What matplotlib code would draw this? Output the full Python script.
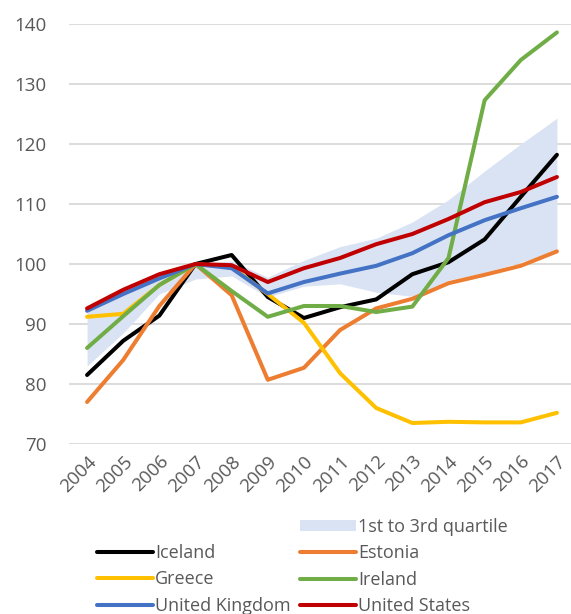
import matplotlib
matplotlib.use("Agg")
import matplotlib.pyplot as plt
from matplotlib.lines import Line2D
from matplotlib.patches import Patch
import numpy as np

plt.rcParams['font.family'] = ['Open Sans', 'DejaVu Sans']

years = ["2004", "2005", "2006", "2007", "2008", "2009", "2010", "2011",
         "2012", "2013", "2014", "2015", "2016", "2017"]

q1 = [83.0, 88.5, 95.0, 97.5, 98.0, 94.5, 96.3, 96.7, 95.3, 94.6, 97.3, 98.6, 100.3, 102.3]
q3 = [92.6, 95.3, 97.8, 100.0, 100.5, 97.8, 100.6, 102.9, 104.3, 107.0, 110.7, 115.5, 120.0, 124.3]

iceland = [81.5, 87.2, 91.4, 100.0, 101.5, 94.5, 91.0, 92.8, 94.1, 98.3, 100.3, 104.1, 111.2, 118.2]
estonia = [77.0, 84.0, 93.0, 100.0, 94.8, 80.7, 82.7, 89.0, 92.6, 94.2, 96.8, 98.2, 99.7, 102.1]
greece = [91.2, 91.7, 96.5, 100.0, 99.5, 95.0, 90.2, 81.8, 76.0, 73.5, 73.7, 73.6, 73.6, 75.2]
ireland = [86.0, 91.3, 96.5, 100.0, 95.5, 91.2, 93.0, 93.0, 92.0, 92.9, 101.0, 127.3, 134.0, 138.6]
uk = [92.2, 95.0, 97.6, 100.0, 99.3, 95.1, 97.0, 98.4, 99.7, 101.8, 104.8, 107.3, 109.3, 111.2]
us = [92.6, 95.7, 98.3, 100.0, 99.8, 97.0, 99.3, 101.0, 103.3, 105.0, 107.5, 110.3, 112.0, 114.5]

series = [("Iceland", iceland, "#000000"),
          ("Estonia", estonia, "#ED7D31"),
          ("Greece", greece, "#FFC000"),
          ("Ireland", ireland, "#70AD47"),
          ("United Kingdom", uk, "#4472C4"),
          ("United States", us, "#C00000")]

W, H = 571, 614
fig = plt.figure(figsize=(W / 100, H / 100), dpi=100)
ax = fig.add_axes([69 / W, (H - 444) / H, (575 - 69) / W, 420 / H])

x = np.arange(len(years))
band_color = "#DAE3F3"
ax.fill_between(x, q1, q3, color=band_color, lw=0, zorder=1)

lw = 2.9
for name, vals, col in series:
    ax.plot(x, vals, color=col, lw=lw, solid_capstyle='round',
            solid_joinstyle='round', zorder=3)

ax.set_xlim(-0.5, len(years) - 0.5)
ax.set_ylim(70, 140)
ax.set_yticks(np.arange(70, 141, 10))
ax.grid(axis='y', color='#D9D9D9', lw=1.3)
ax.set_axisbelow(True)
for s in ax.spines.values():
    s.set_visible(False)
ax.tick_params(axis='both', length=0, colors='#595959', labelsize=13.5)
ax.tick_params(axis='y', pad=16)
ax.set_xticks(x)
ax.set_xticklabels(years, rotation=45, ha='right', rotation_mode='anchor')
ax.tick_params(axis='x', pad=6)

txtc = '#595959'
fs = 13
col1 = [Line2D([], [], color=c, lw=lw, solid_capstyle='round') for n, v, c in series[0::2]]
lab1 = [n for n, v, c in series[0::2]]
col2 = [Patch(facecolor=band_color, edgecolor='none')] + \
       [Line2D([], [], color=c, lw=lw, solid_capstyle='round') for n, v, c in series[1::2]]
lab2 = ["1st to 3rd quartile"] + [n for n, v, c in series[1::2]]

common = dict(frameon=False, fontsize=fs, handlelength=3.1, handletextpad=0.1,
              borderpad=0, borderaxespad=0, labelspacing=0.47, labelcolor=txtc,
              handleheight=0.6, loc='upper left')
leg1 = fig.legend(col1, lab1, bbox_to_anchor=(97 / W, 1 - 544 / H), **common)
leg2 = fig.legend(col2, lab2, bbox_to_anchor=(300 / W, 1 - 518 / H), **common)

fig.savefig("out.png", dpi=100)
